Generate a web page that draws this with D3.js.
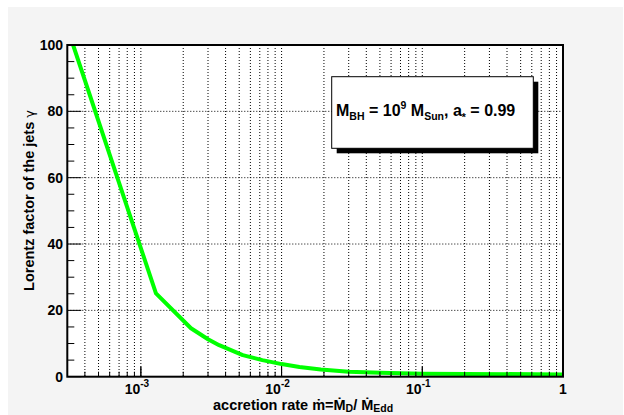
<!DOCTYPE html>
<html><head><meta charset="utf-8">
<script src="https://cdn.jsdelivr.net/npm/d3@7"></script>
<style>html,body{margin:0;padding:0;background:#fff;}svg{display:block;font-family:"Liberation Sans",Arial,sans-serif;}</style>
</head><body>
<script>
// Data
const rate  = [3.3e-4, 1.28e-3, 2.27e-3, 3.0e-3, 3.6e-3, 5.3e-3, 7.3e-3, 1.0e-2, 1.34e-2, 1.9e-2, 3.0e-2, 5.0e-2, 1.0e-1, 1];
const gamma = [100, 25.1, 14.6, 11.3, 9.5, 6.5, 5.0, 3.8, 2.9, 2.2, 1.5, 1.2, 0.9, 0.7];
const xMajorTicks = [1e-3, 1e-2, 1e-1, 1];
const xTickExp = ["-3", "-2", "-1", null];
const yMajorTicks = [0, 20, 40, 60, 80, 100];

const W = 624, H = 415;
const L = 67.3, R = 563, T = 45, B = 376.7;
const svg = d3.select("body").append("svg").attr("width", W).attr("height", H);

svg.append("rect").attr("x", 8).attr("y", 7).attr("width", W - 9).attr("height", H - 7).attr("fill", "#f4f4f4");

const x = d3.scaleLog().domain([3e-4, 1]).range([L, R]);
const y = d3.scaleLinear().domain([0, 100]).range([B, T]);

// plot background
svg.append("rect").attr("x", L).attr("y", T).attr("width", R - L).attr("height", B - T).attr("fill", "#fff");

// grid
const xGrid = [];
for (let e = -4; e <= 0; e++) for (let k = 1; k <= 9; k++) {
  const v = k * Math.pow(10, e);
  if (v > 3e-4 * 1.01 && v < 0.999) xGrid.push(v);
}
svg.append("g").selectAll("line").data(xGrid).join("line")
  .attr("x1", d => x(d)).attr("x2", d => x(d)).attr("y1", T).attr("y2", B)
  .attr("stroke", "#000").attr("stroke-width", 1).attr("stroke-dasharray", "1,2");
svg.append("g").selectAll("line").data(yMajorTicks.filter(d => d > 0 && d < 100)).join("line")
  .attr("x1", L).attr("x2", R).attr("y1", d => y(d)).attr("y2", d => y(d))
  .attr("stroke", "#000").attr("stroke-width", 1).attr("stroke-dasharray", "1,2");

// curve
svg.append("clipPath").attr("id", "clip").append("rect").attr("x", L).attr("y", T).attr("width", R - L).attr("height", B - T);
const pts = rate.map((r, i) => [r, gamma[i]]);
svg.append("path").datum(pts).attr("clip-path", "url(#clip)")
  .attr("d", d3.line().x(d => x(d[0])).y(d => y(d[1])))
  .attr("fill", "none").attr("stroke", "#00ff00").attr("stroke-width", 4).attr("stroke-linejoin", "round");

// ticks
const yMinor = d3.range(0, 101, 5);
svg.append("g").selectAll("line").data(yMinor).join("line")
  .attr("x1", L).attr("x2", d => L + (d % 20 === 0 ? 14 : 7)).attr("y1", d => y(d)).attr("y2", d => y(d))
  .attr("stroke", "#000").attr("stroke-width", 1);
svg.append("g").selectAll("line").data(xGrid.concat(xMajorTicks)).join("line")
  .attr("x1", d => x(d)).attr("x2", d => x(d)).attr("y1", B)
  .attr("y2", d => B - (xMajorTicks.includes(d) ? 10 : 5))
  .attr("stroke", "#000").attr("stroke-width", 1);

// frame
svg.append("rect").attr("x", L).attr("y", T).attr("width", R - L).attr("height", B - T)
  .attr("fill", "none").attr("stroke", "#000").attr("stroke-width", 2);

// y tick labels
svg.append("g").selectAll("text").data(yMajorTicks).join("text")
  .attr("x", 63).attr("y", d => y(d) + 5).attr("text-anchor", "end")
  .attr("font-size", 14).attr("font-weight", "bold").text(d => d);

// x tick labels
const xl = svg.append("g").selectAll("text").data(xMajorTicks).join("text")
  .attr("x", (d, i) => x(d) - (xTickExp[i] ? 4 : 0)).attr("y", 394).attr("text-anchor", "middle")
  .attr("font-size", 14).attr("font-weight", "bold");
xl.each(function (d, i) {
  const t = d3.select(this);
  if (xTickExp[i]) {
    t.append("tspan").text("10");
    t.append("tspan").attr("dy", -7).attr("font-size", 10).text(xTickExp[i]);
  } else t.text("1");
});

// axis titles
const xt = svg.append("text").attr("x", 213).attr("y", 410).attr("font-size", 14.5).attr("font-weight", "bold");
xt.append("tspan").text("accretion rate ");
xt.append("tspan").text("ṁ=Ṁ");
xt.append("tspan").attr("dy", 2).attr("font-size", 10.5).text("D");
xt.append("tspan").attr("dy", -2).text("/ Ṁ");
xt.append("tspan").attr("dy", 2).attr("font-size", 10.5).text("Edd");

const yt = svg.append("text").attr("transform", "translate(34,110) rotate(-90)")
  .attr("text-anchor", "end").attr("font-size", 14.5).attr("font-weight", "bold");
yt.append("tspan").text("Lorentz factor of the jets ");
yt.append("tspan").attr("font-weight", "normal").attr("font-size", 13).attr("font-family", "DejaVu Sans").text("γ");

// legend box
const bx = 331.7, by = 76.7, bw = 201.6, bh = 71.6;
svg.append("rect").attr("x", bx + 5).attr("y", by + 5).attr("width", bw).attr("height", bh).attr("fill", "#000");
svg.append("rect").attr("x", bx).attr("y", by).attr("width", bw).attr("height", bh).attr("fill", "#fff").attr("stroke", "#000").attr("stroke-width", 1);
const lt = svg.append("text").attr("x", 336).attr("y", 116).attr("font-size", 16).attr("font-weight", "bold");
lt.append("tspan").text("M");
lt.append("tspan").attr("dy", 4).attr("font-size", 10.5).text("BH");
lt.append("tspan").attr("dy", -4).text(" = 10");
lt.append("tspan").attr("dy", -7).attr("font-size", 10.5).text("9");
lt.append("tspan").attr("dy", 7).text(" M");
lt.append("tspan").attr("dy", 4).attr("font-size", 10.5).text("Sun");
lt.append("tspan").attr("dy", -4).text(", a");
lt.append("tspan").attr("dy", 5).attr("font-size", 10.5).text("*");
lt.append("tspan").attr("dy", -5).text(" = 0.99");
</script>
</body></html>
